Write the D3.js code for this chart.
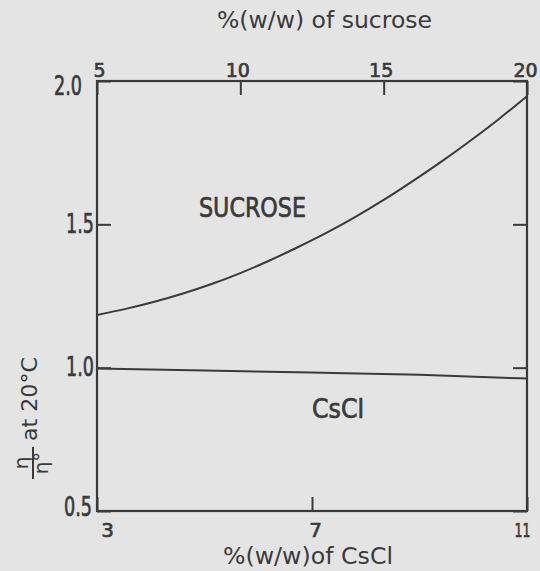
<!DOCTYPE html>
<html>
<head>
<meta charset="utf-8">
<script src="https://cdn.jsdelivr.net/npm/d3@7"></script>
<style>
  html, body { margin: 0; padding: 0; background: #e4e4e4; }
  svg { display: block; }
  text { font-family: "DejaVu Sans", "Noto Sans", sans-serif; fill: #3a3a3a; }
  .heavy { stroke: #3a3a3a; stroke-width: 0.7px; }
</style>
</head>
<body>
<script>
// Relative viscosity of sucrose and CsCl solutions at 20 °C
const sucrosePct = [5, 6, 7, 8, 9, 10, 11, 12, 13, 14, 15, 16, 17, 18, 19, 20];
const sucroseEta = [1.184, 1.205, 1.23, 1.259, 1.292, 1.33, 1.373, 1.42, 1.47, 1.525, 1.585, 1.65, 1.718, 1.79, 1.866, 1.947];
const csclPct = [3, 5, 7, 9, 11];
const csclEta = [0.997, 0.99, 0.983, 0.975, 0.962];
const sucroseTicks = [5, 10, 15, 20];
const csclTicks = [3, 7, 11];
const etaTicks = [0.5, 1.0, 1.5, 2.0];

const W = 540, H = 571;
const margin = { top: 81, right: 13, bottom: 60, left: 97 };
const ink = "#3a3a3a";

const svg = d3.select("body").append("svg").attr("width", W).attr("height", H);
svg.append("rect").attr("width", W).attr("height", H).attr("fill", "#e4e4e4");

const xSuc = d3.scaleLinear().domain([5, 20]).range([margin.left, W - margin.right]);
const xCs = d3.scaleLinear().domain([3, 11]).range([margin.left, W - margin.right]);
const y = d3.scaleLinear().domain([0.5, 2.0]).range([H - margin.bottom, margin.top]);

const fmt = d3.format(".1f");
const tick = 14;

function styleAxis(g) {
  g.select(".domain").remove();
  g.selectAll(".tick line").attr("stroke", ink).attr("stroke-width", 2);
  g.selectAll(".tick text").attr("fill", ink).attr("class", "heavy");
}

// top axis: sucrose concentration
const gTop = svg.append("g").attr("transform", `translate(0,${margin.top})`)
  .call(d3.axisTop(xSuc).tickValues(sucroseTicks).tickSize(-tick).tickPadding(4).tickFormat(d3.format("d")))
  .call(styleAxis);
gTop.selectAll(".tick text").attr("font-size", 19).attr("y", -4)
  .attr("dx", d => d === 5 ? 2 : d === 20 ? -2 : -3);

// bottom axis: CsCl concentration
const gBot = svg.append("g").attr("transform", `translate(0,${H - margin.bottom})`)
  .call(d3.axisBottom(xCs).tickValues(csclTicks).tickSize(-tick).tickPadding(12).tickFormat(d3.format("d")))
  .call(styleAxis);
gBot.selectAll(".tick text").attr("font-size", 20)
  .attr("dx", d => d === 3 ? 10 : d === 11 ? -5 : 3)
  .each(function (d) { if (d === 11) d3.select(this).attr("textLength", 16).attr("lengthAdjust", "spacingAndGlyphs"); });

// left axis: relative viscosity
const gLeft = svg.append("g").attr("transform", `translate(${margin.left},0)`)
  .call(d3.axisLeft(y).tickValues(etaTicks).tickSize(-tick).tickPadding(3).tickFormat(fmt))
  .call(styleAxis);
gLeft.selectAll(".tick text").attr("font-size", 26)
  .attr("textLength", 28).attr("lengthAdjust", "spacingAndGlyphs")
  .attr("dx", d => d === 2.0 ? -12 : d === 0.5 ? -2 : 0)
  .attr("dy", d => d === 2.0 ? "0.5em" : d === 0.5 ? "0.18em" : "0.32em");

// right axis: ticks only
svg.append("g").attr("transform", `translate(${W - margin.right},0)`)
  .call(d3.axisRight(y).tickValues(etaTicks).tickSize(-tick).tickFormat(""))
  .call(styleAxis);

// frame
svg.append("rect")
  .attr("x", margin.left).attr("y", margin.top)
  .attr("width", W - margin.left - margin.right)
  .attr("height", H - margin.top - margin.bottom)
  .attr("fill", "none").attr("stroke", ink).attr("stroke-width", 2.2);

// curves
const sucLine = d3.line().x(d => xSuc(d[0])).y(d => y(d[1])).curve(d3.curveMonotoneX);
svg.append("path")
  .datum(d3.zip(sucrosePct, sucroseEta))
  .attr("d", sucLine).attr("fill", "none").attr("stroke", ink).attr("stroke-width", 2);

const csLine = d3.line().x(d => xCs(d[0])).y(d => y(d[1])).curve(d3.curveMonotoneX);
svg.append("path")
  .datum(d3.zip(csclPct, csclEta))
  .attr("d", csLine).attr("fill", "none").attr("stroke", ink).attr("stroke-width", 2);

// curve labels
svg.append("text").text("SUCROSE").attr("class", "heavy")
  .attr("x", 199).attr("y", 217).attr("font-size", 26)
  .attr("textLength", 107).attr("lengthAdjust", "spacingAndGlyphs");
svg.append("text").text("CsCl").attr("class", "heavy")
  .attr("x", 312).attr("y", 418).attr("font-size", 26)
  .attr("textLength", 52).attr("lengthAdjust", "spacingAndGlyphs");

// axis titles
svg.append("text").text("%(w/w) of sucrose")
  .attr("x", 217).attr("y", 28).attr("font-size", 23)
  .attr("textLength", 215).attr("lengthAdjust", "spacingAndGlyphs");
svg.append("text").text("%(w/w)of CsCl")
  .attr("x", 223).attr("y", 564).attr("font-size", 23)
  .attr("textLength", 170).attr("lengthAdjust", "spacingAndGlyphs");

// y title: η/η° at 20°C, rotated
const yt = svg.append("g").attr("transform", "rotate(-90)");
yt.append("text").text("η")
  .attr("x", -463).attr("y", 28).attr("font-size", 20).attr("text-anchor", "middle");
yt.append("line")
  .attr("x1", -479).attr("x2", -447).attr("y1", 33).attr("y2", 33)
  .attr("stroke", ink).attr("stroke-width", 2);
yt.append("text").text("η°")
  .attr("x", -463).attr("y", 48).attr("font-size", 20).attr("text-anchor", "middle");
yt.append("text").text("at 20°C")
  .attr("x", -441).attr("y", 37).attr("font-size", 21)
  .attr("textLength", 84).attr("lengthAdjust", "spacingAndGlyphs");
</script>
</body>
</html>
